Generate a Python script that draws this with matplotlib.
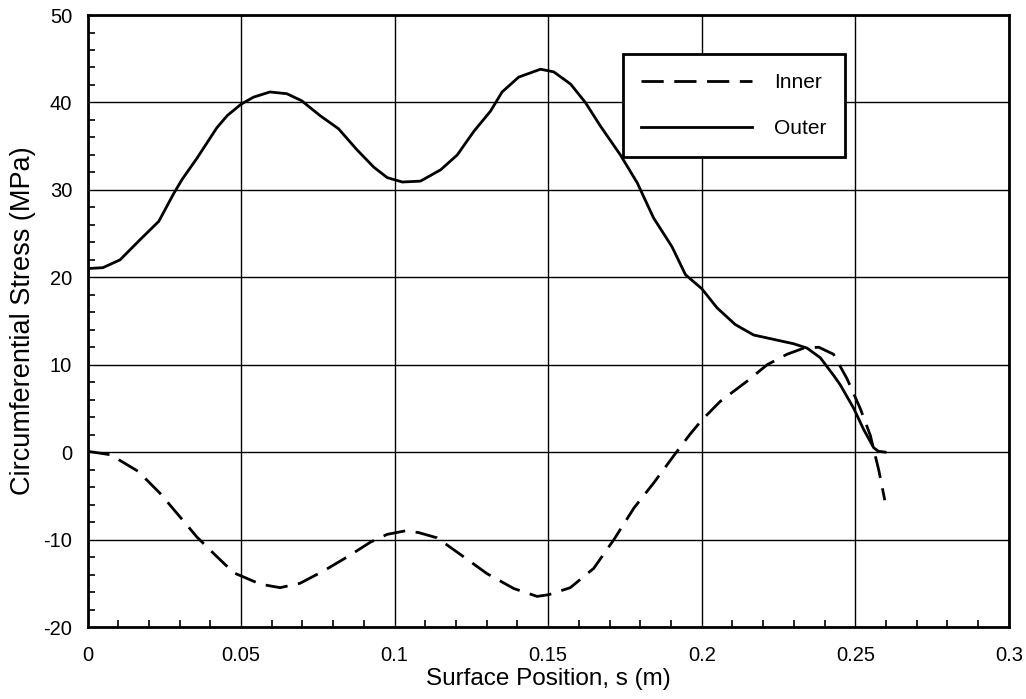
import matplotlib
matplotlib.use("Agg")
import matplotlib.pyplot as plt
from matplotlib.ticker import MultipleLocator

plt.rcParams['font.family'] = ['Liberation Sans', 'DejaVu Sans']
plt.rcParams['axes.unicode_minus'] = False

outer_s = [0.0, 0.005, 0.0106, 0.0171, 0.0232, 0.0281, 0.0308, 0.0356, 0.0421, 0.0455, 0.05,
           0.054, 0.0594, 0.0649, 0.0697, 0.0757, 0.0817, 0.0877, 0.0932, 0.0976, 0.1025,
           0.1084, 0.115, 0.1204, 0.1258, 0.1312, 0.135, 0.1404, 0.1475, 0.1518, 0.1573,
           0.1621, 0.167, 0.1735, 0.179, 0.1843, 0.1903, 0.1947, 0.2, 0.205, 0.2109, 0.2169,
           0.2234, 0.2299, 0.2343, 0.2386, 0.2429, 0.2451, 0.2495, 0.2527, 0.256, 0.2575, 0.2597]
outer_v = [21.0, 21.1, 22.0, 24.3, 26.4, 29.6, 31.2, 33.6, 37.1, 38.5, 39.8,
           40.6, 41.2, 41.0, 40.2, 38.5, 37.0, 34.6, 32.6, 31.4, 30.9,
           31.0, 32.3, 34.0, 36.7, 39.0, 41.2, 42.9, 43.8, 43.5, 42.1,
           40.0, 37.3, 34.0, 30.8, 26.8, 23.5, 20.3, 18.7, 16.5, 14.6, 13.4,
           12.9, 12.4, 11.9, 10.8, 8.8, 7.7, 5.0, 2.6, 0.5, 0.1, 0.0]

inner_s = [0.0, 0.0075, 0.0165, 0.0236, 0.0313, 0.0356, 0.0411, 0.0476, 0.0503, 0.0563, 0.0627,
           0.0692, 0.0768, 0.0845, 0.0921, 0.0976, 0.1035, 0.1078, 0.1138, 0.1214, 0.1301,
           0.1388, 0.1464, 0.1502, 0.1572, 0.1648, 0.1714, 0.1779, 0.1844, 0.1909, 0.1963,
           0.2001, 0.206, 0.2147, 0.2213, 0.2278, 0.2332, 0.2381, 0.2429, 0.2473, 0.2516,
           0.2549, 0.2576, 0.2596]
inner_v = [0.1, -0.3, -2.2, -4.7, -7.9, -9.7, -11.6, -13.8, -14.2, -15.1, -15.5,
           -15.0, -13.6, -12.0, -10.3, -9.4, -9.0, -9.2, -9.8, -11.7, -13.9,
           -15.6, -16.5, -16.3, -15.5, -13.3, -10.0, -6.4, -3.5, -0.4, 2.1,
           3.7, 5.8, 8.1, 10.0, 11.2, 11.9, 12.0, 11.2, 8.4, 5.0,
           1.9, -2.0, -5.5]

fig = plt.figure(figsize=(10.26, 6.99), dpi=100)
ax = fig.add_axes([0.0853, 0.103, 0.898, 0.8755])

ax.plot(inner_s, inner_v, color='black', lw=2.0, dashes=(8, 3.8), label='Inner')
ax.plot(outer_s, outer_v, color='black', lw=2.0, label='Outer')

ax.set_xlim(0, 0.3)
ax.set_ylim(-20, 50)
ax.xaxis.set_minor_locator(MultipleLocator(0.01))
ax.yaxis.set_major_locator(MultipleLocator(10))
ax.yaxis.set_minor_locator(MultipleLocator(2))
ax.set_xticks([0, 0.05, 0.1, 0.15, 0.2, 0.25, 0.3])
ax.set_xticklabels(['0', '0.05', '0.1', '0.15', '0.2', '0.25', '0.3'])
ax.grid(True, which='major', color='black', lw=1.0)
ax.tick_params(which='both', direction='in', labelsize=14.5, top=False, right=False)
ax.tick_params(which='major', length=0)
ax.tick_params(axis='x', which='major', pad=14)
ax.tick_params(axis='y', which='major', pad=11)
ax.tick_params(which='minor', length=5, width=1.2)
for sp in ax.spines.values():
    sp.set_linewidth(2.0)

ax.set_xlabel('Surface Position, s (m)', fontsize=17.5, labelpad=2)
ax.set_ylabel('Circumferential Stress (MPa)', fontsize=19.5, labelpad=5)

leg = ax.legend(loc='upper right', bbox_to_anchor=(0.822, 0.936), fontsize=15,
                handlelength=5.3, frameon=True, fancybox=False, borderpad=0.9,
                labelspacing=1.3, handletextpad=1.05, borderaxespad=0)
leg.get_frame().set_edgecolor('black')
leg.get_frame().set_linewidth(2.0)
leg.get_frame().set_alpha(1)

fig.savefig('out.png', dpi=100)
